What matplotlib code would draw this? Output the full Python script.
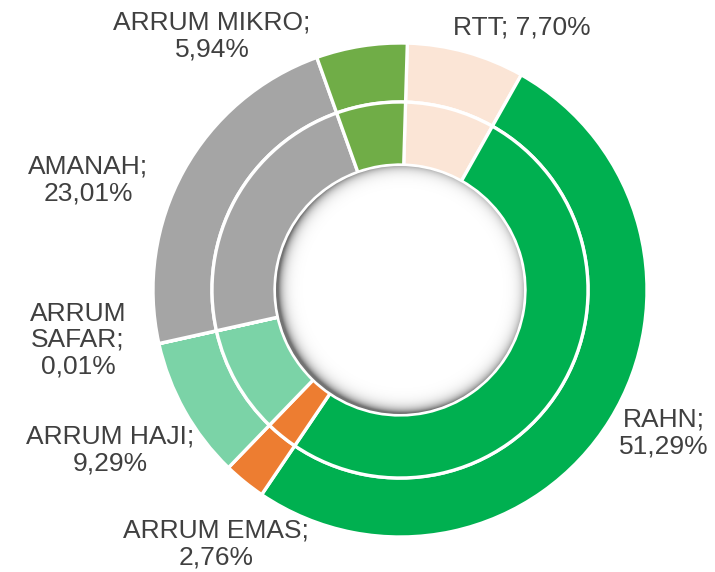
import numpy as np
import matplotlib.pyplot as plt
from matplotlib.patches import Circle

plt.rcParams['font.family'] = ['Liberation Sans', 'DejaVu Sans']

# data (percent shares, clockwise from the top)
labels = ['RTT', 'RAHN', 'ARRUM EMAS', 'ARRUM HAJI', 'ARRUM SAFAR', 'AMANAH', 'ARRUM MIKRO']
values = [7.70, 51.29, 2.76, 9.29, 0.01, 23.01, 5.94]
label_text = ['RTT; 7,70%', 'RAHN;\n51,29%', 'ARRUM EMAS;\n2,76%', 'ARRUM HAJI;\n9,29%',
              'ARRUM\nSAFAR;\n0,01%', 'AMANAH;\n23,01%', 'ARRUM MIKRO;\n5,94%']
colors = ['#FBE5D6', '#00B050', '#ED7D31', '#7BD3A7', '#5B9BD5', '#A5A5A5', '#70AD47']

W, H = 715, 572
fig = plt.figure(figsize=(W / 100, H / 100), dpi=100)
ax = fig.add_axes([0, 0, 1, 1])

cx, cy = 400, H - 290
r_out, r_mid, r_in = 247, 188, 125

wp = dict(edgecolor='white', linewidth=2.4)
ax.pie(values, colors=colors, radius=r_out, center=(cx, cy), startangle=88.3,
       counterclock=False, wedgeprops=dict(width=r_out - r_mid, **wp))
ax.pie(values, colors=colors, radius=r_mid, center=(cx, cy), startangle=88.3,
       counterclock=False, wedgeprops=dict(width=r_mid - r_in, **wp))

# hole with a soft inner shadow
hole = Circle((cx, cy), r_in - 1, facecolor='white', edgecolor='none', zorder=3)
ax.add_patch(hole)
n = 400
gx = np.linspace(cx - r_in, cx + r_in, n)
gy = np.linspace(cy - r_in, cy + r_in, n)
X, Y = np.meshgrid(gx, gy)
d = np.hypot(X - (cx + 3), Y - (cy + 2))
shade = np.clip(np.exp(-(r_in - d) / 5.0), 0, 1) * 0.55
rgba = np.zeros((n, n, 4))
rgba[..., 3] = shade
img = ax.imshow(rgba, extent=(gx[0], gx[-1], gy[0], gy[-1]), origin='lower',
                zorder=4, interpolation='bilinear')
img.set_clip_path(Circle((cx, cy), r_in - 1, transform=ax.transData))

# labels (pixel positions from the top-left)
label_pos = [(522, 28), (664, 433), (216, 544), (110, 450), (78, 340), (88, 180), (212, 36)]
for txt, (px, py) in zip(label_text, label_pos):
    ax.text(px, H - py, txt, ha='center', va='center', fontsize=19,
            color='#404040', linespacing=1.12)

ax.set_xlim(0, W)
ax.set_ylim(0, H)
ax.set_aspect('equal')
ax.axis('off')

fig.savefig('out.png', dpi=100)
